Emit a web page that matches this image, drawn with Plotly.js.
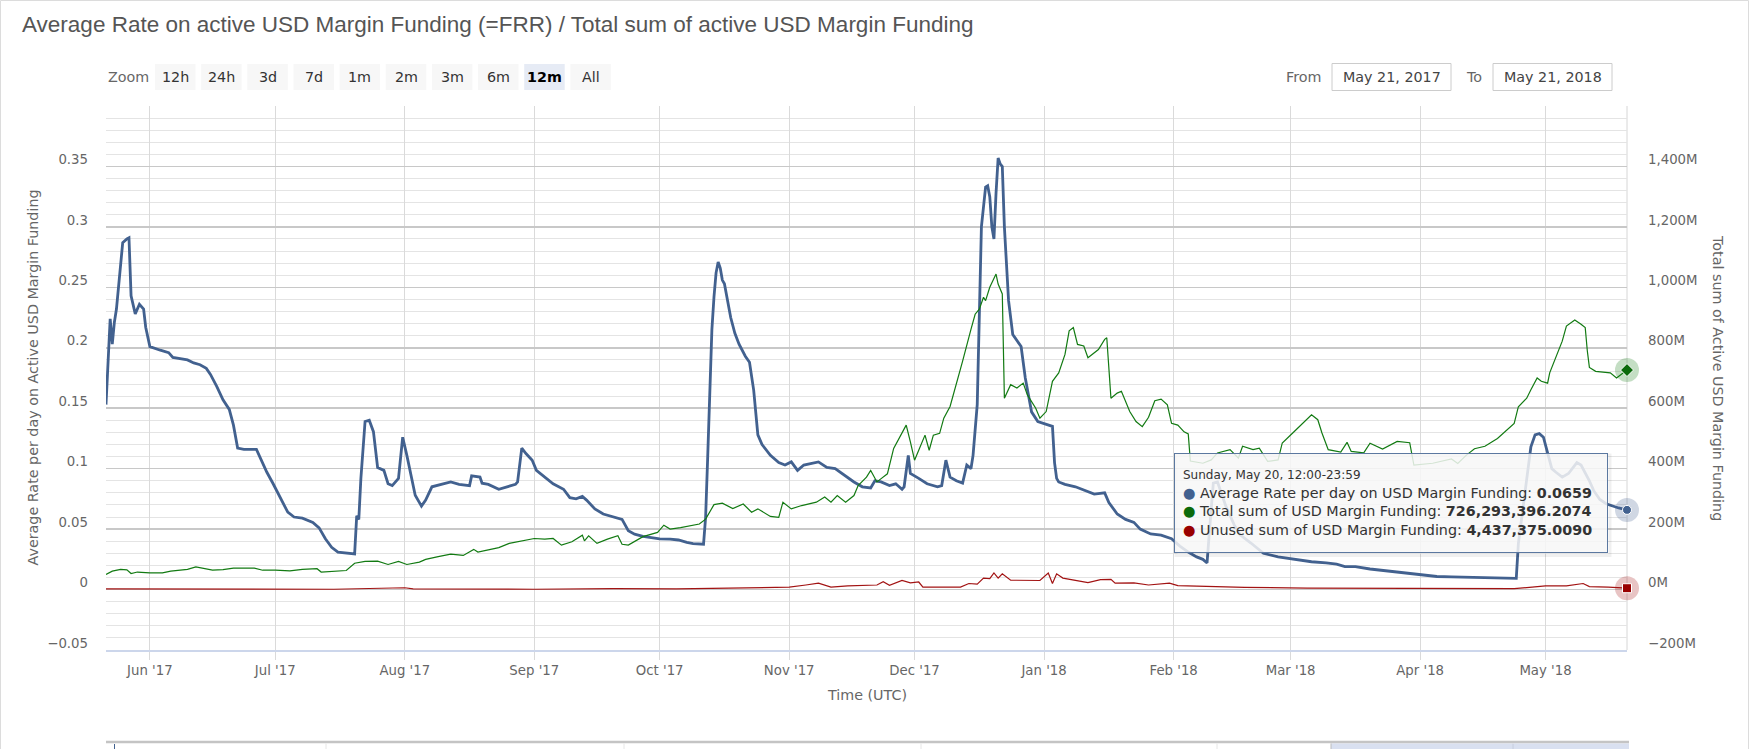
<!DOCTYPE html>
<html>
<head>
<meta charset="utf-8">
<script src="https://cdn.plot.ly/plotly-3.0.1.min.js"></script>
<style>
  html, body { margin: 0; padding: 0; background: #ffffff; }
  #chart { width: 1750px; height: 749px; }
</style>
</head>
<body>
<div id="chart"></div>
<script>
// ---------------- DATA ----------------
const rateDates = [
"2017-05-21 12:00","2017-05-22 12:00","2017-05-23 00:00","2017-05-23 12:00","2017-05-24 00:00","2017-05-25 12:00","2017-05-26 12:00","2017-05-27 00:00","2017-05-27 12:00","2017-05-28 12:00",
"2017-05-29 12:00","2017-05-30 12:00","2017-05-31 00:00","2017-06-01 00:00","2017-06-03 12:00","2017-06-05 12:00","2017-06-06 12:00","2017-06-10 00:00","2017-06-11 12:00","2017-06-13 00:00",
"2017-06-14 12:00","2017-06-15 12:00","2017-06-17 00:00","2017-06-18 12:00","2017-06-20 00:00","2017-06-21 00:00","2017-06-22 00:00","2017-06-23 12:00","2017-06-26 12:00","2017-06-27 12:00",
"2017-06-29 00:00","2017-06-30 12:00","2017-07-02 12:00","2017-07-04 00:00","2017-07-05 12:00","2017-07-07 12:00","2017-07-10 00:00","2017-07-11 12:00","2017-07-13 00:00","2017-07-14 12:00",
"2017-07-16 00:00","2017-07-18 12:00","2017-07-20 00:00","2017-07-20 12:00","2017-07-21 00:00","2017-07-21 12:00","2017-07-22 12:00","2017-07-23 12:00","2017-07-24 12:00","2017-07-25 12:00",
"2017-07-27 00:00","2017-07-28 00:00","2017-07-29 00:00","2017-07-30 12:00","2017-07-31 12:00","2017-08-01 12:00","2017-08-02 12:00","2017-08-03 12:00","2017-08-05 00:00","2017-08-06 00:00",
"2017-08-07 12:00","2017-08-10 00:00","2017-08-12 00:00","2017-08-14 00:00","2017-08-16 12:00","2017-08-17 00:00","2017-08-19 00:00","2017-08-19 12:00","2017-08-21 00:00","2017-08-23 12:00",
"2017-08-25 12:00","2017-08-27 12:00","2017-08-28 00:00","2017-08-29 00:00","2017-08-30 00:00","2017-08-31 12:00","2017-09-01 12:00","2017-09-03 12:00","2017-09-05 12:00","2017-09-08 00:00",
"2017-09-09 12:00","2017-09-11 00:00","2017-09-12 12:00","2017-09-13 12:00","2017-09-15 12:00","2017-09-17 12:00","2017-09-19 12:00","2017-09-22 00:00","2017-09-23 12:00","2017-09-25 00:00",
"2017-09-27 00:00","2017-09-29 12:00","2017-10-01 00:00","2017-10-03 12:00","2017-10-05 12:00","2017-10-07 12:00","2017-10-09 00:00","2017-10-11 12:00","2017-10-12 00:00","2017-10-12 12:00",
"2017-10-13 00:00","2017-10-13 12:00","2017-10-14 00:00","2017-10-14 12:00","2017-10-15 00:00","2017-10-15 12:00","2017-10-16 00:00","2017-10-16 12:00","2017-10-18 00:00","2017-10-19 00:00",
"2017-10-20 00:00","2017-10-21 12:00","2017-10-22 12:00","2017-10-23 12:00","2017-10-24 12:00","2017-10-25 12:00","2017-10-27 12:00","2017-10-29 12:00","2017-10-31 00:00","2017-11-01 12:00",
"2017-11-03 00:00","2017-11-04 12:00","2017-11-08 00:00","2017-11-10 00:00","2017-11-12 00:00","2017-11-14 12:00","2017-11-16 12:00","2017-11-18 12:00","2017-11-20 12:00","2017-11-21 12:00",
"2017-11-23 00:00","2017-11-25 00:00","2017-11-26 12:00","2017-11-28 00:00","2017-11-28 12:00","2017-11-29 12:00","2017-11-30 00:00","2017-12-02 00:00","2017-12-04 00:00","2017-12-06 12:00",
"2017-12-07 12:00","2017-12-08 12:00","2017-12-09 12:00","2017-12-11 00:00","2017-12-12 12:00","2017-12-13 12:00","2017-12-14 12:00","2017-12-15 00:00","2017-12-16 00:00","2017-12-17 00:00",
"2017-12-18 00:00","2017-12-18 12:00","2017-12-19 00:00","2017-12-19 12:00","2017-12-20 00:00","2017-12-20 12:00","2017-12-21 00:00","2017-12-21 12:00","2017-12-22 00:00","2017-12-22 12:00",
"2017-12-23 12:00","2017-12-24 12:00","2017-12-26 12:00","2017-12-27 12:00","2017-12-29 00:00","2017-12-30 12:00","2018-01-01 00:00","2018-01-03 00:00","2018-01-03 12:00","2018-01-04 00:00",
"2018-01-04 12:00","2018-01-06 00:00","2018-01-08 12:00","2018-01-11 00:00","2018-01-13 00:00","2018-01-15 12:00","2018-01-16 12:00","2018-01-18 12:00","2018-01-20 12:00","2018-01-22 12:00",
"2018-01-24 00:00","2018-01-26 12:00","2018-01-29 00:00","2018-01-31 12:00","2018-02-02 12:00","2018-02-04 12:00","2018-02-06 12:00","2018-02-08 00:00","2018-02-09 00:00","2018-02-09 12:00",
"2018-02-10 12:00","2018-02-11 12:00","2018-02-13 12:00","2018-02-15 12:00","2018-02-17 00:00","2018-02-19 12:00","2018-02-22 12:00","2018-02-26 00:00","2018-03-02 00:00","2018-03-06 00:00",
"2018-03-09 12:00","2018-03-12 00:00","2018-03-14 00:00","2018-03-16 12:00","2018-03-20 00:00","2018-03-25 12:00","2018-03-31 00:00","2018-04-05 00:00","2018-04-08 12:00","2018-04-17 12:00",
"2018-04-24 00:00","2018-04-24 12:00","2018-04-25 12:00","2018-04-26 12:00","2018-04-27 12:00","2018-04-28 12:00","2018-04-29 12:00","2018-04-30 12:00","2018-05-01 12:00","2018-05-02 12:00",
"2018-05-03 12:00","2018-05-05 00:00","2018-05-06 12:00","2018-05-07 12:00","2018-05-08 12:00","2018-05-09 12:00","2018-05-10 12:00","2018-05-11 12:00","2018-05-12 12:00","2018-05-14 00:00",
"2018-05-15 12:00","2018-05-17 00:00","2018-05-18 12:00","2018-05-20 12:00"
];
const rateValues = [
0.153,0.224,0.203,0.221,0.232,0.287,0.290,0.291,0.243,0.228,
0.236,0.232,0.217,0.201,0.198,0.196,0.192,0.190,0.1875,0.186,
0.183,0.178,0.168,0.157,0.149,0.136,0.117,0.116,0.116,0.108,
0.097,0.0875,0.0736,0.064,0.060,0.059,0.0556,0.051,0.042,0.035,
0.031,0.030,0.0295,0.061,0.058,0.092,0.139,0.140,0.1306,0.101,
0.0986,0.0875,0.086,0.092,0.126,0.111,0.094,0.078,0.069,0.074,
0.085,0.087,0.089,0.087,0.086,0.094,0.093,0.088,0.087,0.083,
0.085,0.087,0.089,0.117,0.1125,0.107,0.0986,0.093,0.0875,0.083,
0.076,0.075,0.077,0.074,0.0667,0.0625,0.0606,0.058,0.0486,0.0458,
0.044,0.043,0.042,0.0417,0.041,0.039,0.038,0.0375,0.060,0.110,
0.161,0.215,0.242,0.262,0.271,0.266,0.256,0.253,0.225,0.212,
0.203,0.193,0.188,0.165,0.128,0.120,0.111,0.105,0.103,0.1056,
0.0986,0.103,0.1056,0.101,0.100,0.094,0.089,0.085,0.084,0.090,
0.089,0.086,0.0875,0.083,0.085,0.111,0.096,0.092,0.0875,0.085,
0.086,0.107,0.093,0.090,0.088,0.103,0.100,0.111,0.153,0.300,
0.333,0.334,0.325,0.300,0.290,0.328,0.357,0.352,0.350,0.300,
0.239,0.211,0.201,0.175,0.147,0.139,0.1375,0.135,0.105,0.092,
0.089,0.087,0.085,0.082,0.079,0.080,0.072,0.0625,0.058,0.0556,
0.050,0.046,0.045,0.042,0.036,0.031,0.027,0.025,0.022,0.045,
0.088,0.089,0.069,0.0535,0.045,0.0385,0.030,0.027,0.025,0.023,
0.022,0.021,0.019,0.019,0.017,0.015,0.0125,0.0108,0.0105,0.0098,
0.0093,0.038,0.065,0.095,0.118,0.128,0.129,0.126,0.113,0.100,
0.097,0.093,0.096,0.101,0.105,0.103,0.097,0.090,0.082,0.0745,
0.071,0.069,0.0675,0.0659
];

// Total sum of active USD margin funding, in millions of USD
const totalDates = [
"2017-05-21 12:00","2017-05-23 00:00","2017-05-25 00:00","2017-05-26 12:00","2017-05-27 12:00","2017-05-29 00:00","2017-06-01 00:00","2017-06-04 00:00","2017-06-06 00:00","2017-06-10 00:00",
"2017-06-12 00:00","2017-06-14 00:00","2017-06-16 00:00","2017-06-18 12:00","2017-06-21 00:00","2017-06-26 00:00","2017-06-28 00:00","2017-07-01 00:00","2017-07-04 12:00","2017-07-07 12:00",
"2017-07-11 00:00","2017-07-12 00:00","2017-07-15 00:00","2017-07-18 00:00","2017-07-20 00:00","2017-07-22 12:00","2017-07-25 12:00","2017-07-28 00:00","2017-07-30 12:00","2017-08-01 12:00",
"2017-08-04 12:00","2017-08-06 00:00","2017-08-09 00:00","2017-08-12 00:00","2017-08-15 00:00","2017-08-17 12:00","2017-08-18 12:00","2017-08-20 12:00","2017-08-23 12:00","2017-08-26 00:00",
"2017-08-29 00:00","2017-09-01 00:00","2017-09-03 12:00","2017-09-05 12:00","2017-09-07 12:00","2017-09-10 00:00","2017-09-12 12:00","2017-09-13 00:00","2017-09-14 00:00","2017-09-16 00:00",
"2017-09-18 12:00","2017-09-21 00:00","2017-09-22 00:00","2017-09-23 12:00","2017-09-27 00:00","2017-09-30 12:00","2017-10-02 00:00","2017-10-03 12:00","2017-10-06 00:00","2017-10-10 12:00",
"2017-10-12 00:00","2017-10-14 00:00","2017-10-16 00:00","2017-10-18 12:00","2017-10-21 00:00","2017-10-23 00:00","2017-10-24 12:00","2017-10-27 12:00","2017-10-29 12:00","2017-10-30 12:00",
"2017-11-01 12:00","2017-11-04 00:00","2017-11-07 12:00","2017-11-09 12:00","2017-11-11 00:00","2017-11-12 12:00","2017-11-14 12:00","2017-11-16 12:00","2017-11-17 12:00","2017-11-19 12:00",
"2017-11-20 12:00","2017-11-22 00:00","2017-11-23 00:00","2017-11-24 12:00","2017-11-26 00:00","2017-11-27 12:00","2017-11-29 00:00","2017-11-30 00:00","2017-12-01 00:00","2017-12-02 00:00",
"2017-12-03 12:00","2017-12-04 12:00","2017-12-05 12:00","2017-12-07 00:00","2017-12-08 00:00","2017-12-09 12:00","2017-12-11 00:00","2017-12-12 12:00","2017-12-14 12:00","2017-12-15 12:00",
"2017-12-16 12:00","2017-12-17 12:00","2017-12-18 00:00","2017-12-19 00:00","2017-12-20 12:00","2017-12-21 00:00","2017-12-22 00:00","2017-12-22 12:00","2017-12-24 00:00","2017-12-25 12:00",
"2017-12-27 00:00","2017-12-28 00:00","2017-12-30 00:00","2017-12-31 00:00","2018-01-01 12:00","2018-01-03 00:00","2018-01-04 12:00","2018-01-06 00:00","2018-01-07 00:00","2018-01-08 00:00",
"2018-01-09 00:00","2018-01-10 12:00","2018-01-11 12:00","2018-01-14 00:00","2018-01-15 12:00","2018-01-16 00:00","2018-01-17 00:00","2018-01-18 12:00","2018-01-19 12:00","2018-01-21 12:00",
"2018-01-23 00:00","2018-01-24 12:00","2018-01-26 00:00","2018-01-27 12:00","2018-01-29 00:00","2018-01-30 12:00","2018-01-31 12:00","2018-02-02 00:00","2018-02-03 12:00","2018-02-04 12:00",
"2018-02-05 00:00","2018-02-08 00:00","2018-02-10 00:00","2018-02-11 12:00","2018-02-14 12:00","2018-02-16 12:00","2018-02-17 12:00","2018-02-20 00:00","2018-02-21 12:00","2018-02-23 12:00",
"2018-02-26 00:00","2018-02-27 00:00","2018-03-01 12:00","2018-03-03 12:00","2018-03-06 00:00","2018-03-07 12:00","2018-03-08 12:00","2018-03-10 00:00","2018-03-13 00:00","2018-03-14 12:00",
"2018-03-15 12:00","2018-03-18 12:00","2018-03-20 00:00","2018-03-23 00:00","2018-03-26 12:00","2018-03-29 12:00","2018-03-30 12:00","2018-04-04 00:00","2018-04-08 12:00","2018-04-10 00:00",
"2018-04-12 00:00","2018-04-14 00:00","2018-04-16 12:00","2018-04-19 12:00","2018-04-22 00:00","2018-04-23 12:00","2018-04-24 12:00","2018-04-26 12:00","2018-04-27 12:00","2018-04-29 00:00",
"2018-04-30 00:00","2018-05-01 12:00","2018-05-02 00:00","2018-05-03 12:00","2018-05-05 00:00","2018-05-06 00:00","2018-05-07 12:00","2018-05-08 00:00","2018-05-09 12:00","2018-05-10 12:00",
"2018-05-11 00:00","2018-05-11 12:00","2018-05-13 00:00","2018-05-15 00:00","2018-05-16 12:00","2018-05-18 00:00","2018-05-19 12:00","2018-05-20 12:00"
];
const totalValues = [
50,61,67,65,53,58,55,55,61,67,
75,69,64,66,71,71,64,64,62,67,
69,58,60,63,87,93,94,83,93,83,
91,100,109,117,113,133,124,131,139,153,
161,169,167,169,147,158,180,161,178,153,
167,178,150,147,175,189,213,200,205,217,
233,281,286,268,283,256,267,242,239,289,
267,278,289,306,289,311,289,311,344,372,
394,356,367,383,467,506,544,489,428,461,
511,461,511,517,567,606,678,756,861,911,
928,967,956,1000,1044,1011,978,633,678,667,
683,644,600,567,589,689,717,778,856,867,
811,806,767,794,828,833,633,650,656,589,
556,539,570,625,630,611,550,544,522,515,
425,418,429,452,463,435,474,463,468,424,
429,485,518,545,578,562,518,463,455,487,
457,452,484,465,490,486,412,418,432,417,
444,466,474,500,530,550,605,633,661,700,
689,683,717,767,822,872,886,892,878,867,
790,735,722,719,717,700,717,726.2933962074
];

// Unused sum of USD margin funding, in millions of USD
const unusedDates = [
"2017-05-21 12:00","2017-06-10 00:00","2017-06-25 00:00","2017-07-15 00:00","2017-08-01 00:00","2017-08-03 00:00","2017-09-01 00:00","2017-09-20 00:00","2017-10-05 00:00","2017-10-20 00:00",
"2017-11-01 00:00","2017-11-05 00:00","2017-11-08 00:00","2017-11-11 00:00","2017-11-15 00:00","2017-11-22 00:00","2017-11-23 12:00","2017-11-25 00:00","2017-11-28 00:00","2017-11-30 00:00",
"2017-12-02 00:00","2017-12-03 00:00","2017-12-12 00:00","2017-12-14 00:00","2017-12-16 00:00","2017-12-17 12:00","2017-12-19 00:00","2017-12-20 00:00","2017-12-21 00:00","2017-12-22 00:00",
"2017-12-24 00:00","2017-12-31 00:00","2018-01-02 00:00","2018-01-03 00:00","2018-01-04 00:00","2018-01-05 12:00","2018-01-08 00:00","2018-01-11 12:00","2018-01-14 12:00","2018-01-17 00:00",
"2018-01-18 00:00","2018-01-22 12:00","2018-01-26 00:00","2018-01-31 00:00","2018-02-02 00:00","2018-02-08 00:00","2018-02-18 00:00","2018-03-05 00:00","2018-03-25 00:00","2018-04-12 00:00",
"2018-04-23 12:00","2018-05-01 00:00","2018-05-06 00:00","2018-05-10 00:00","2018-05-11 12:00","2018-05-16 00:00","2018-05-20 12:00"
];
const unusedValues = [
2,1,2,1,6,2,1,3,2,5,
8,15,21,8,12,15,26,14,30,22,
25,8,8,20,18,38,36,55,38,52,
31,30,55,20,52,38,32,23,33,34,
21,22,15,21,13,10,7,5,4,4,
3,12,12,20,10,8,4.437375009
];

const leftTickVals  = [-0.05, 0, 0.05, 0.1, 0.15, 0.2, 0.25, 0.3, 0.35, 0.4];
const leftTickText  = ["\u22120.05", "0", "0.05", "0.1", "0.15", "0.2", "0.25", "0.3", "0.35", ""];
const rightTickVals = [-200, 0, 200, 400, 600, 800, 1000, 1200, 1400, 1600];
const rightTickText = ["\u2212200M", "0M", "200M", "400M", "600M", "800M", "1,000M", "1,200M", "1,400M", ""];
const zoomButtons   = ["12h", "24h", "3d", "7d", "1m", "2m", "3m", "6m", "12m", "All"];
const activeButton  = "12m";
const fromDate = "May 21, 2017";
const toDate   = "May 21, 2018";

// ---------------- STYLE / LAYOUT ----------------
const C_BLUE = "#42618f", C_GREEN = "#127a12", C_RED = "#a21313";
const FONT = "DejaVu Sans, Verdana, sans-serif";
const PL = 106, PR = 1627, PT = 106, PB = 650;
const PW = PR - PL, PH = PB - PT;
const PX = X => (X - PL) / PW;
const PY = Y => (PB - Y) / PH;

const last = a => a[a.length - 1];

const traces = [
  { x: totalDates, y: totalValues, yaxis: "y2", type: "scatter", mode: "lines",
    line: { color: C_GREEN, width: 1.2 }, hoverinfo: "skip" },
  { x: unusedDates, y: unusedValues, yaxis: "y2", type: "scatter", mode: "lines",
    line: { color: C_RED, width: 1.2 }, hoverinfo: "skip" },
  { x: rateDates, y: rateValues, yaxis: "y", type: "scatter", mode: "lines",
    line: { color: C_BLUE, width: 2.8 }, hoverinfo: "skip" },
  // hover halos + markers at the last point
  { x: [last(rateDates)], y: [last(rateValues)], yaxis: "y", mode: "markers", cliponaxis: false,
    marker: { size: 24, color: "rgba(66,97,143,0.25)" }, hoverinfo: "skip" },
  { x: [last(totalDates)], y: [last(totalValues)], yaxis: "y2", mode: "markers", cliponaxis: false,
    marker: { size: 24, color: "rgba(18,122,18,0.25)" }, hoverinfo: "skip" },
  { x: [last(unusedDates)], y: [last(unusedValues)], yaxis: "y2", mode: "markers", cliponaxis: false,
    marker: { size: 24, color: "rgba(162,19,19,0.25)" }, hoverinfo: "skip" },
  { x: [last(rateDates)], y: [last(rateValues)], yaxis: "y", mode: "markers", cliponaxis: false,
    marker: { size: 9, color: C_BLUE, line: { color: "#fff", width: 1 } }, hoverinfo: "skip" },
  { x: [last(totalDates)], y: [last(totalValues)], yaxis: "y2", mode: "markers", cliponaxis: false,
    marker: { size: 10, symbol: "diamond", color: "#0b6a0b", line: { color: "#fff", width: 1 } }, hoverinfo: "skip" },
  { x: [last(unusedDates)], y: [last(unusedValues)], yaxis: "y2", mode: "markers", cliponaxis: false,
    marker: { size: 9, symbol: "square", color: "#990000", line: { color: "#fff", width: 1 } }, hoverinfo: "skip" }
];

const shapes = [];
const annotations = [];

// outer frame
shapes.push({ type: "rect", xref: "paper", yref: "paper",
  x0: PX(0.5), x1: PX(1748.5), y0: PY(800), y1: PY(0.5),
  line: { color: "#dcdcdc", width: 1 }, fillcolor: "rgba(0,0,0,0)", layer: "below" });

// right plot border (behind the series)
shapes.push({ type: "line", xref: "paper", yref: "paper", x0: 1, x1: 1, y0: 0, y1: 1,
  line: { color: "#d6d6d6", width: 1 }, layer: "below" });

// title
annotations.push({ xref: "paper", yref: "paper", x: PX(20), y: PY(24.5), xanchor: "left", yanchor: "middle",
  text: "Average Rate on active USD Margin Funding (=FRR) / Total sum of active USD Margin Funding",
  showarrow: false, font: { family: "Liberation Sans, Arial, sans-serif", size: 22.5, color: "#555555" } });

// axis titles
annotations.push({ xref: "paper", yref: "paper", x: PX(32.5), y: PY(378), xanchor: "center", yanchor: "middle",
  textangle: -90, text: "Average Rate per day on Active USD Margin Funding", showarrow: false,
  font: { family: FONT, size: 14.3, color: "#666666" } });
annotations.push({ xref: "paper", yref: "paper", x: PX(1718), y: PY(378), xanchor: "center", yanchor: "middle",
  textangle: 90, text: "Total sum of Active USD Margin Funding", showarrow: false,
  font: { family: FONT, size: 14.3, color: "#666666" } });
annotations.push({ xref: "paper", yref: "paper", x: PX(866.5), y: PY(695), xanchor: "center", yanchor: "middle",
  text: "Time (UTC)", showarrow: false, font: { family: FONT, size: 14.3, color: "#666666" } });

// range selector row
annotations.push({ xref: "paper", yref: "paper", x: PX(128), y: PY(77), xanchor: "center", yanchor: "middle",
  text: "Zoom", showarrow: false, font: { family: FONT, size: 14.3, color: "#666666" } });
zoomButtons.forEach((b, i) => {
  const x0 = 155 + i * 46.15, x1 = x0 + 40.5;
  const act = b === activeButton;
  shapes.push({ type: "rect", xref: "paper", yref: "paper", x0: PX(x0), x1: PX(x1), y0: PY(90), y1: PY(64),
    line: { width: 0 }, fillcolor: act ? "#e6ebf5" : "#f7f7f7", layer: "below" });
  annotations.push({ xref: "paper", yref: "paper", x: PX((x0 + x1) / 2), y: PY(77), xanchor: "center", yanchor: "middle",
    text: act ? "<b>" + b + "</b>" : b, showarrow: false,
    font: { family: FONT, size: 14.3, color: act ? "#000000" : "#333333" } });
});

// From / To inputs
annotations.push({ xref: "paper", yref: "paper", x: PX(1323), y: PY(77), xanchor: "right", yanchor: "middle",
  text: "From", showarrow: false, font: { family: FONT, size: 14.3, color: "#666666" } });
annotations.push({ xref: "paper", yref: "paper", x: PX(1464), y: PY(77), xanchor: "left", yanchor: "middle",
  text: "To", showarrow: false, font: { family: FONT, size: 14.3, color: "#666666" } });
[[1332, 1451, fromDate], [1493, 1612, toDate]].forEach(([a, b, t]) => {
  shapes.push({ type: "rect", xref: "paper", yref: "paper", x0: PX(a), x1: PX(b), y0: PY(90.5), y1: PY(63.5),
    line: { color: "#cccccc", width: 1 }, fillcolor: "#ffffff", layer: "below" });
  annotations.push({ xref: "paper", yref: "paper", x: PX((a + b) / 2), y: PY(77), xanchor: "center", yanchor: "middle",
    text: t, showarrow: false, font: { family: FONT, size: 14.3, color: "#444444" } });
});

// navigator strip at the bottom
shapes.push({ type: "line", xref: "paper", yref: "paper", x0: PX(106), x1: PX(1629), y0: PY(742), y1: PY(742),
  line: { color: "#c4c4c4", width: 2.5 } });
[326, 624, 921, 1217, 1513].forEach(x => {
  shapes.push({ type: "line", xref: "paper", yref: "paper", x0: PX(x), x1: PX(x), y0: PY(743.5), y1: PY(760),
    line: { color: "#e6e6e6", width: 1 } });
});
shapes.push({ type: "rect", xref: "paper", yref: "paper", x0: PX(1331), x1: PX(1629), y0: PY(760), y1: PY(743.5),
  line: { width: 0 }, fillcolor: "rgba(102,133,194,0.25)" });
shapes.push({ type: "line", xref: "paper", yref: "paper", x0: PX(1331), x1: PX(1331), y0: PY(743.5), y1: PY(760),
  line: { color: "#bbbbbb", width: 1 } });
shapes.push({ type: "line", xref: "paper", yref: "paper", x0: PX(114.5), x1: PX(114.5), y0: PY(744), y1: PY(760),
  line: { color: C_BLUE, width: 1 } });

// tooltip shadow
shapes.push({ type: "rect", xref: "paper", yref: "paper", x0: PX(1176), x1: PX(1610), y0: PY(555.5), y1: PY(455),
  line: { color: "rgba(0,0,0,0.06)", width: 3 }, fillcolor: "rgba(0,0,0,0)", layer: "above" });

// tooltip
const tipText =
  '<span style="font-size:12px">Sunday, May 20, 12:00-23:59</span><br>' +
  '<span style="color:' + C_BLUE + '">\u25CF</span> Average Rate per day on USD Margin Funding: <b>0.0659</b><br>' +
  '<span style="color:#0b6a0b">\u25CF</span> Total sum of USD Margin Funding: <b>726,293,396.2074</b><br>' +
  '<span style="color:#990000">\u25CF</span> Unused sum of USD Margin Funding: <b>4,437,375.0090</b>';
annotations.push({ xref: "paper", yref: "paper", x: PX(1174), y: PY(453), xanchor: "left", yanchor: "top",
  text: tipText, showarrow: false, align: "left", valign: "middle",
  width: 416, height: 82, borderpad: 8, borderwidth: 1, bordercolor: "#5b78a0",
  bgcolor: "rgba(247,247,247,0.85)", font: { family: FONT, size: 14.3, color: "#333333" } });

const tickFont = { family: FONT, size: 13.3, color: "#666666" };

const layout = {
  width: 1750, height: 749,
  margin: { l: PL, r: 1750 - PR, t: PT, b: 749 - PB, pad: 0 },
  paper_bgcolor: "#ffffff", plot_bgcolor: "#ffffff",
  showlegend: false, hovermode: false,
  xaxis: {
    type: "date", range: ["2017-05-21 12:00", "2018-05-20 12:00"],
    tick0: "2017-06-01", dtick: "M1", tickformat: "%b '%y",
    showgrid: true, gridcolor: "#dadada", gridwidth: 1,
    ticks: "outside", ticklen: 8, tickcolor: "#dadada",
    showline: true, linecolor: "#ccd6eb", linewidth: 1.5,
    zeroline: false, tickfont: tickFont
  },
  yaxis: {
    range: [-0.05, 0.4], tickmode: "array", tickvals: leftTickVals, ticktext: leftTickText,
    showgrid: true, gridcolor: "#c8c8c8", gridwidth: 1.6, zeroline: false, ticks: "",
    ticklabelstandoff: 17, ticklabelshift: -7, tickfont: tickFont,
    minor: { tickmode: "linear", tick0: 0, dtick: 0.01, showgrid: true, gridcolor: "#e4e4e4", gridwidth: 1, ticks: "" }
  },
  yaxis2: {
    overlaying: "y", side: "right", range: [-200, 1600], tickmode: "array",
    tickvals: rightTickVals, ticktext: rightTickText,
    showgrid: false, zeroline: false, ticks: "", showline: false,
    ticklabelstandoff: 20, ticklabelshift: -7, tickfont: tickFont
  },
  shapes: shapes,
  annotations: annotations
};

Plotly.newPlot("chart", traces, layout, { staticPlot: true, displayModeBar: false });
</script>
</body>
</html>
